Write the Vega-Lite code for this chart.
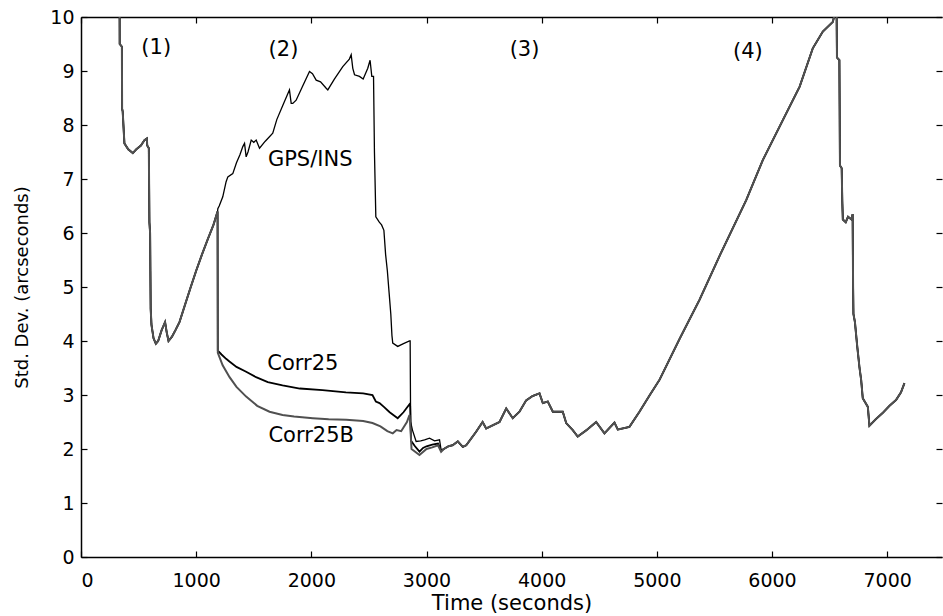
{
  "$schema": "https://vega.github.io/schema/vega-lite/v6.json",
  "width": 861,
  "height": 540,
  "autosize": {"type": "none"},
  "padding": {"left": 81, "top": 17, "right": 1, "bottom": 59},
  "background": "white",
  "config": {
    "view": {"stroke": null},
    "axis": {
      "grid": false,
      "domainColor": "black",
      "tickColor": "black",
      "labelColor": "black",
      "titleColor": "black",
      "labelFont": "DejaVu Sans",
      "titleFont": "DejaVu Sans",
      "labelFontSize": 19,
      "titleFontSize": 20,
      "titleFontWeight": "normal",
      "tickSize": -6,
      "tickWidth": 1.2,
      "domainWidth": 1.5
    }
  },
  "datasets": {
    "lines": [
      {"series": "GPS/INS", "t": 334, "v": 11}, {"series": "GPS/INS", "t": 336, "v": 9.5}, {"series": "GPS/INS", "t": 355, "v": 9.45}, {"series": "GPS/INS", "t": 357, "v": 8.3}, {"series": "GPS/INS", "t": 362, "v": 8.25}, {"series": "GPS/INS", "t": 377, "v": 7.66}, {"series": "GPS/INS", "t": 410, "v": 7.55}, {"series": "GPS/INS", "t": 450, "v": 7.48}, {"series": "GPS/INS", "t": 480, "v": 7.55}, {"series": "GPS/INS", "t": 520, "v": 7.62}, {"series": "GPS/INS", "t": 551, "v": 7.72}, {"series": "GPS/INS", "t": 572, "v": 7.75}, {"series": "GPS/INS", "t": 575, "v": 7.62}, {"series": "GPS/INS", "t": 589, "v": 7.57}, {"series": "GPS/INS", "t": 591, "v": 7.0}, {"series": "GPS/INS", "t": 594, "v": 6.2}, {"series": "GPS/INS", "t": 600, "v": 6.0}, {"series": "GPS/INS", "t": 605, "v": 4.6}, {"series": "GPS/INS", "t": 612, "v": 4.3}, {"series": "GPS/INS", "t": 630, "v": 4.05}, {"series": "GPS/INS", "t": 650, "v": 3.95}, {"series": "GPS/INS", "t": 670, "v": 4.0}, {"series": "GPS/INS", "t": 700, "v": 4.2}, {"series": "GPS/INS", "t": 730, "v": 4.35}, {"series": "GPS/INS", "t": 745, "v": 4.15}, {"series": "GPS/INS", "t": 760, "v": 4.0}, {"series": "GPS/INS", "t": 790, "v": 4.08}, {"series": "GPS/INS", "t": 820, "v": 4.2}, {"series": "GPS/INS", "t": 855, "v": 4.35}, {"series": "GPS/INS", "t": 900, "v": 4.65}, {"series": "GPS/INS", "t": 950, "v": 4.98}, {"series": "GPS/INS", "t": 1000, "v": 5.3}, {"series": "GPS/INS", "t": 1050, "v": 5.6}, {"series": "GPS/INS", "t": 1100, "v": 5.88}, {"series": "GPS/INS", "t": 1150, "v": 6.15}, {"series": "GPS/INS", "t": 1186, "v": 6.4},
      {"series": "GPS/INS", "t": 1188, "v": 6.45}, {"series": "GPS/INS", "t": 1200, "v": 6.5}, {"series": "GPS/INS", "t": 1231, "v": 6.67}, {"series": "GPS/INS", "t": 1260, "v": 6.95}, {"series": "GPS/INS", "t": 1275, "v": 7.04}, {"series": "GPS/INS", "t": 1318, "v": 7.1}, {"series": "GPS/INS", "t": 1350, "v": 7.3}, {"series": "GPS/INS", "t": 1380, "v": 7.45}, {"series": "GPS/INS", "t": 1405, "v": 7.6}, {"series": "GPS/INS", "t": 1420, "v": 7.66}, {"series": "GPS/INS", "t": 1434, "v": 7.41}, {"series": "GPS/INS", "t": 1450, "v": 7.5}, {"series": "GPS/INS", "t": 1478, "v": 7.72}, {"series": "GPS/INS", "t": 1500, "v": 7.68}, {"series": "GPS/INS", "t": 1521, "v": 7.72}, {"series": "GPS/INS", "t": 1550, "v": 7.57}, {"series": "GPS/INS", "t": 1600, "v": 7.7}, {"series": "GPS/INS", "t": 1665, "v": 7.85}, {"series": "GPS/INS", "t": 1700, "v": 8.1}, {"series": "GPS/INS", "t": 1750, "v": 8.35}, {"series": "GPS/INS", "t": 1790, "v": 8.55}, {"series": "GPS/INS", "t": 1810, "v": 8.65}, {"series": "GPS/INS", "t": 1825, "v": 8.4}, {"series": "GPS/INS", "t": 1839, "v": 8.4}, {"series": "GPS/INS", "t": 1868, "v": 8.46}, {"series": "GPS/INS", "t": 1920, "v": 8.7}, {"series": "GPS/INS", "t": 1984, "v": 8.99}, {"series": "GPS/INS", "t": 2010, "v": 8.95}, {"series": "GPS/INS", "t": 2042, "v": 8.83}, {"series": "GPS/INS", "t": 2080, "v": 8.8}, {"series": "GPS/INS", "t": 2129, "v": 8.68}, {"series": "GPS/INS", "t": 2143, "v": 8.65}, {"series": "GPS/INS", "t": 2200, "v": 8.85}, {"series": "GPS/INS", "t": 2273, "v": 9.08}, {"series": "GPS/INS", "t": 2330, "v": 9.22}, {"series": "GPS/INS", "t": 2346, "v": 9.3}, {"series": "GPS/INS", "t": 2360, "v": 9.05}, {"series": "GPS/INS", "t": 2375, "v": 8.93}, {"series": "GPS/INS", "t": 2418, "v": 8.9}, {"series": "GPS/INS", "t": 2450, "v": 8.85}, {"series": "GPS/INS", "t": 2490, "v": 9.05}, {"series": "GPS/INS", "t": 2510, "v": 9.2}, {"series": "GPS/INS", "t": 2525, "v": 8.9}, {"series": "GPS/INS", "t": 2540, "v": 8.9}, {"series": "GPS/INS", "t": 2548, "v": 7.5}, {"series": "GPS/INS", "t": 2560, "v": 6.3}, {"series": "GPS/INS", "t": 2590, "v": 6.2}, {"series": "GPS/INS", "t": 2610, "v": 6.15}, {"series": "GPS/INS", "t": 2630, "v": 6.05}, {"series": "GPS/INS", "t": 2645, "v": 5.6}, {"series": "GPS/INS", "t": 2660, "v": 5.3}, {"series": "GPS/INS", "t": 2675, "v": 4.9}, {"series": "GPS/INS", "t": 2690, "v": 4.5}, {"series": "GPS/INS", "t": 2700, "v": 4.1}, {"series": "GPS/INS", "t": 2707, "v": 3.96}, {"series": "GPS/INS", "t": 2750, "v": 3.9}, {"series": "GPS/INS", "t": 2800, "v": 3.95}, {"series": "GPS/INS", "t": 2852, "v": 4.0}, {"series": "GPS/INS", "t": 2858, "v": 4.0}, {"series": "GPS/INS", "t": 2862, "v": 2.5}, {"series": "GPS/INS", "t": 2878, "v": 2.35}, {"series": "GPS/INS", "t": 2910, "v": 2.14}, {"series": "GPS/INS", "t": 2950, "v": 2.15}, {"series": "GPS/INS", "t": 2983, "v": 2.17}, {"series": "GPS/INS", "t": 3026, "v": 2.2}, {"series": "GPS/INS", "t": 3070, "v": 2.15}, {"series": "GPS/INS", "t": 3113, "v": 2.17}, {"series": "GPS/INS", "t": 3127, "v": 1.98},
      {"series": "GPS/INS", "t": 3150, "v": 2.0}, {"series": "GPS/INS", "t": 3190, "v": 2.05}, {"series": "GPS/INS", "t": 3227, "v": 2.07}, {"series": "GPS/INS", "t": 3272, "v": 2.14}, {"series": "GPS/INS", "t": 3315, "v": 2.04}, {"series": "GPS/INS", "t": 3345, "v": 2.07}, {"series": "GPS/INS", "t": 3390, "v": 2.2}, {"series": "GPS/INS", "t": 3431, "v": 2.32}, {"series": "GPS/INS", "t": 3487, "v": 2.5}, {"series": "GPS/INS", "t": 3518, "v": 2.38}, {"series": "GPS/INS", "t": 3576, "v": 2.44}, {"series": "GPS/INS", "t": 3634, "v": 2.5}, {"series": "GPS/INS", "t": 3692, "v": 2.75}, {"series": "GPS/INS", "t": 3749, "v": 2.57}, {"series": "GPS/INS", "t": 3807, "v": 2.69}, {"series": "GPS/INS", "t": 3865, "v": 2.9}, {"series": "GPS/INS", "t": 3920, "v": 2.98}, {"series": "GPS/INS", "t": 3981, "v": 3.03}, {"series": "GPS/INS", "t": 4010, "v": 2.85}, {"series": "GPS/INS", "t": 4053, "v": 2.88}, {"series": "GPS/INS", "t": 4097, "v": 2.69}, {"series": "GPS/INS", "t": 4183, "v": 2.69}, {"series": "GPS/INS", "t": 4213, "v": 2.48}, {"series": "GPS/INS", "t": 4270, "v": 2.35}, {"series": "GPS/INS", "t": 4313, "v": 2.23}, {"series": "GPS/INS", "t": 4390, "v": 2.35}, {"series": "GPS/INS", "t": 4473, "v": 2.5}, {"series": "GPS/INS", "t": 4545, "v": 2.29}, {"series": "GPS/INS", "t": 4632, "v": 2.49}, {"series": "GPS/INS", "t": 4661, "v": 2.36}, {"series": "GPS/INS", "t": 4762, "v": 2.41}, {"series": "GPS/INS", "t": 4849, "v": 2.69}, {"series": "GPS/INS", "t": 4939, "v": 3.0}, {"series": "GPS/INS", "t": 5023, "v": 3.28}, {"series": "GPS/INS", "t": 5200, "v": 4.05}, {"series": "GPS/INS", "t": 5370, "v": 4.76}, {"series": "GPS/INS", "t": 5550, "v": 5.6}, {"series": "GPS/INS", "t": 5776, "v": 6.61}, {"series": "GPS/INS", "t": 5920, "v": 7.35}, {"series": "GPS/INS", "t": 6094, "v": 8.09}, {"series": "GPS/INS", "t": 6240, "v": 8.71}, {"series": "GPS/INS", "t": 6354, "v": 9.42}, {"series": "GPS/INS", "t": 6441, "v": 9.73}, {"series": "GPS/INS", "t": 6528, "v": 9.91}, {"series": "GPS/INS", "t": 6550, "v": 10.1}, {"series": "GPS/INS", "t": 6560, "v": 10.3}, {"series": "GPS/INS", "t": 6564, "v": 9.25}, {"series": "GPS/INS", "t": 6585, "v": 9.2}, {"series": "GPS/INS", "t": 6590, "v": 7.25}, {"series": "GPS/INS", "t": 6605, "v": 7.2}, {"series": "GPS/INS", "t": 6610, "v": 6.6}, {"series": "GPS/INS", "t": 6615, "v": 6.25}, {"series": "GPS/INS", "t": 6640, "v": 6.2}, {"series": "GPS/INS", "t": 6660, "v": 6.3}, {"series": "GPS/INS", "t": 6690, "v": 6.25}, {"series": "GPS/INS", "t": 6700, "v": 6.35}, {"series": "GPS/INS", "t": 6704, "v": 5.0}, {"series": "GPS/INS", "t": 6707, "v": 4.5}, {"series": "GPS/INS", "t": 6720, "v": 4.35}, {"series": "GPS/INS", "t": 6740, "v": 3.9}, {"series": "GPS/INS", "t": 6760, "v": 3.5}, {"series": "GPS/INS", "t": 6774, "v": 3.28}, {"series": "GPS/INS", "t": 6788, "v": 2.94}, {"series": "GPS/INS", "t": 6832, "v": 2.78}, {"series": "GPS/INS", "t": 6846, "v": 2.43}, {"series": "GPS/INS", "t": 6900, "v": 2.55}, {"series": "GPS/INS", "t": 6962, "v": 2.67}, {"series": "GPS/INS", "t": 7020, "v": 2.8}, {"series": "GPS/INS", "t": 7078, "v": 2.91}, {"series": "GPS/INS", "t": 7120, "v": 3.05}, {"series": "GPS/INS", "t": 7150, "v": 3.22},

      {"series": "Corr25", "t": 334, "v": 11}, {"series": "Corr25", "t": 336, "v": 9.5}, {"series": "Corr25", "t": 355, "v": 9.45}, {"series": "Corr25", "t": 357, "v": 8.3}, {"series": "Corr25", "t": 362, "v": 8.25}, {"series": "Corr25", "t": 377, "v": 7.66}, {"series": "Corr25", "t": 410, "v": 7.55}, {"series": "Corr25", "t": 450, "v": 7.48}, {"series": "Corr25", "t": 480, "v": 7.55}, {"series": "Corr25", "t": 520, "v": 7.62}, {"series": "Corr25", "t": 551, "v": 7.72}, {"series": "Corr25", "t": 572, "v": 7.75}, {"series": "Corr25", "t": 575, "v": 7.62}, {"series": "Corr25", "t": 589, "v": 7.57}, {"series": "Corr25", "t": 591, "v": 7.0}, {"series": "Corr25", "t": 594, "v": 6.2}, {"series": "Corr25", "t": 600, "v": 6.0}, {"series": "Corr25", "t": 605, "v": 4.6}, {"series": "Corr25", "t": 612, "v": 4.3}, {"series": "Corr25", "t": 630, "v": 4.05}, {"series": "Corr25", "t": 650, "v": 3.95}, {"series": "Corr25", "t": 670, "v": 4.0}, {"series": "Corr25", "t": 700, "v": 4.2}, {"series": "Corr25", "t": 730, "v": 4.35}, {"series": "Corr25", "t": 745, "v": 4.15}, {"series": "Corr25", "t": 760, "v": 4.0}, {"series": "Corr25", "t": 790, "v": 4.08}, {"series": "Corr25", "t": 820, "v": 4.2}, {"series": "Corr25", "t": 855, "v": 4.35}, {"series": "Corr25", "t": 900, "v": 4.65}, {"series": "Corr25", "t": 950, "v": 4.98}, {"series": "Corr25", "t": 1000, "v": 5.3}, {"series": "Corr25", "t": 1050, "v": 5.6}, {"series": "Corr25", "t": 1100, "v": 5.88}, {"series": "Corr25", "t": 1150, "v": 6.15}, {"series": "Corr25", "t": 1186, "v": 6.4},
      {"series": "Corr25", "t": 1188, "v": 3.82}, {"series": "Corr25", "t": 1220, "v": 3.75}, {"series": "Corr25", "t": 1260, "v": 3.67}, {"series": "Corr25", "t": 1289, "v": 3.62}, {"series": "Corr25", "t": 1350, "v": 3.52}, {"series": "Corr25", "t": 1434, "v": 3.43}, {"series": "Corr25", "t": 1520, "v": 3.33}, {"series": "Corr25", "t": 1622, "v": 3.24}, {"series": "Corr25", "t": 1750, "v": 3.18}, {"series": "Corr25", "t": 1900, "v": 3.12}, {"series": "Corr25", "t": 2097, "v": 3.09}, {"series": "Corr25", "t": 2300, "v": 3.05}, {"series": "Corr25", "t": 2450, "v": 3.03}, {"series": "Corr25", "t": 2531, "v": 3.0}, {"series": "Corr25", "t": 2560, "v": 2.88}, {"series": "Corr25", "t": 2592, "v": 2.85}, {"series": "Corr25", "t": 2630, "v": 2.78}, {"series": "Corr25", "t": 2680, "v": 2.68}, {"series": "Corr25", "t": 2750, "v": 2.57}, {"series": "Corr25", "t": 2800, "v": 2.68}, {"series": "Corr25", "t": 2852, "v": 2.83}, {"series": "Corr25", "t": 2858, "v": 2.8}, {"series": "Corr25", "t": 2866, "v": 2.15}, {"series": "Corr25", "t": 2900, "v": 2.05}, {"series": "Corr25", "t": 2939, "v": 1.95}, {"series": "Corr25", "t": 2970, "v": 2.02}, {"series": "Corr25", "t": 3000, "v": 2.05}, {"series": "Corr25", "t": 3050, "v": 2.08}, {"series": "Corr25", "t": 3100, "v": 2.1}, {"series": "Corr25", "t": 3127, "v": 1.97},
      {"series": "Corr25", "t": 3150, "v": 2.0}, {"series": "Corr25", "t": 3190, "v": 2.05}, {"series": "Corr25", "t": 3227, "v": 2.07}, {"series": "Corr25", "t": 3272, "v": 2.14}, {"series": "Corr25", "t": 3315, "v": 2.04}, {"series": "Corr25", "t": 3345, "v": 2.07}, {"series": "Corr25", "t": 3390, "v": 2.2}, {"series": "Corr25", "t": 3431, "v": 2.32}, {"series": "Corr25", "t": 3487, "v": 2.5}, {"series": "Corr25", "t": 3518, "v": 2.38}, {"series": "Corr25", "t": 3576, "v": 2.44}, {"series": "Corr25", "t": 3634, "v": 2.5}, {"series": "Corr25", "t": 3692, "v": 2.75}, {"series": "Corr25", "t": 3749, "v": 2.57}, {"series": "Corr25", "t": 3807, "v": 2.69}, {"series": "Corr25", "t": 3865, "v": 2.9}, {"series": "Corr25", "t": 3920, "v": 2.98}, {"series": "Corr25", "t": 3981, "v": 3.03}, {"series": "Corr25", "t": 4010, "v": 2.85}, {"series": "Corr25", "t": 4053, "v": 2.88}, {"series": "Corr25", "t": 4097, "v": 2.69}, {"series": "Corr25", "t": 4183, "v": 2.69}, {"series": "Corr25", "t": 4213, "v": 2.48}, {"series": "Corr25", "t": 4270, "v": 2.35}, {"series": "Corr25", "t": 4313, "v": 2.23}, {"series": "Corr25", "t": 4390, "v": 2.35}, {"series": "Corr25", "t": 4473, "v": 2.5}, {"series": "Corr25", "t": 4545, "v": 2.29}, {"series": "Corr25", "t": 4632, "v": 2.49}, {"series": "Corr25", "t": 4661, "v": 2.36}, {"series": "Corr25", "t": 4762, "v": 2.41}, {"series": "Corr25", "t": 4849, "v": 2.69}, {"series": "Corr25", "t": 4939, "v": 3.0}, {"series": "Corr25", "t": 5023, "v": 3.28}, {"series": "Corr25", "t": 5200, "v": 4.05}, {"series": "Corr25", "t": 5370, "v": 4.76}, {"series": "Corr25", "t": 5550, "v": 5.6}, {"series": "Corr25", "t": 5776, "v": 6.61}, {"series": "Corr25", "t": 5920, "v": 7.35}, {"series": "Corr25", "t": 6094, "v": 8.09}, {"series": "Corr25", "t": 6240, "v": 8.71}, {"series": "Corr25", "t": 6354, "v": 9.42}, {"series": "Corr25", "t": 6441, "v": 9.73}, {"series": "Corr25", "t": 6528, "v": 9.91}, {"series": "Corr25", "t": 6550, "v": 10.1}, {"series": "Corr25", "t": 6560, "v": 10.3}, {"series": "Corr25", "t": 6564, "v": 9.25}, {"series": "Corr25", "t": 6585, "v": 9.2}, {"series": "Corr25", "t": 6590, "v": 7.25}, {"series": "Corr25", "t": 6605, "v": 7.2}, {"series": "Corr25", "t": 6610, "v": 6.6}, {"series": "Corr25", "t": 6615, "v": 6.25}, {"series": "Corr25", "t": 6640, "v": 6.2}, {"series": "Corr25", "t": 6660, "v": 6.3}, {"series": "Corr25", "t": 6690, "v": 6.25}, {"series": "Corr25", "t": 6700, "v": 6.35}, {"series": "Corr25", "t": 6704, "v": 5.0}, {"series": "Corr25", "t": 6707, "v": 4.5}, {"series": "Corr25", "t": 6720, "v": 4.35}, {"series": "Corr25", "t": 6740, "v": 3.9}, {"series": "Corr25", "t": 6760, "v": 3.5}, {"series": "Corr25", "t": 6774, "v": 3.28}, {"series": "Corr25", "t": 6788, "v": 2.94}, {"series": "Corr25", "t": 6832, "v": 2.78}, {"series": "Corr25", "t": 6846, "v": 2.43}, {"series": "Corr25", "t": 6900, "v": 2.55}, {"series": "Corr25", "t": 6962, "v": 2.67}, {"series": "Corr25", "t": 7020, "v": 2.8}, {"series": "Corr25", "t": 7078, "v": 2.91}, {"series": "Corr25", "t": 7120, "v": 3.05}, {"series": "Corr25", "t": 7150, "v": 3.22},

      {"series": "Corr25B", "t": 334, "v": 11}, {"series": "Corr25B", "t": 336, "v": 9.5}, {"series": "Corr25B", "t": 355, "v": 9.45}, {"series": "Corr25B", "t": 357, "v": 8.3}, {"series": "Corr25B", "t": 362, "v": 8.25}, {"series": "Corr25B", "t": 377, "v": 7.66}, {"series": "Corr25B", "t": 410, "v": 7.55}, {"series": "Corr25B", "t": 450, "v": 7.48}, {"series": "Corr25B", "t": 480, "v": 7.55}, {"series": "Corr25B", "t": 520, "v": 7.62}, {"series": "Corr25B", "t": 551, "v": 7.72}, {"series": "Corr25B", "t": 572, "v": 7.75}, {"series": "Corr25B", "t": 575, "v": 7.62}, {"series": "Corr25B", "t": 589, "v": 7.57}, {"series": "Corr25B", "t": 591, "v": 7.0}, {"series": "Corr25B", "t": 594, "v": 6.2}, {"series": "Corr25B", "t": 600, "v": 6.0}, {"series": "Corr25B", "t": 605, "v": 4.6}, {"series": "Corr25B", "t": 612, "v": 4.3}, {"series": "Corr25B", "t": 630, "v": 4.05}, {"series": "Corr25B", "t": 650, "v": 3.95}, {"series": "Corr25B", "t": 670, "v": 4.0}, {"series": "Corr25B", "t": 700, "v": 4.2}, {"series": "Corr25B", "t": 730, "v": 4.35}, {"series": "Corr25B", "t": 745, "v": 4.15}, {"series": "Corr25B", "t": 760, "v": 4.0}, {"series": "Corr25B", "t": 790, "v": 4.08}, {"series": "Corr25B", "t": 820, "v": 4.2}, {"series": "Corr25B", "t": 855, "v": 4.35}, {"series": "Corr25B", "t": 900, "v": 4.65}, {"series": "Corr25B", "t": 950, "v": 4.98}, {"series": "Corr25B", "t": 1000, "v": 5.3}, {"series": "Corr25B", "t": 1050, "v": 5.6}, {"series": "Corr25B", "t": 1100, "v": 5.88}, {"series": "Corr25B", "t": 1150, "v": 6.15}, {"series": "Corr25B", "t": 1186, "v": 6.4},
      {"series": "Corr25B", "t": 1188, "v": 3.78}, {"series": "Corr25B", "t": 1230, "v": 3.55}, {"series": "Corr25B", "t": 1290, "v": 3.33}, {"series": "Corr25B", "t": 1350, "v": 3.15}, {"series": "Corr25B", "t": 1434, "v": 2.97}, {"series": "Corr25B", "t": 1530, "v": 2.8}, {"series": "Corr25B", "t": 1637, "v": 2.69}, {"series": "Corr25B", "t": 1750, "v": 2.63}, {"series": "Corr25B", "t": 1850, "v": 2.6}, {"series": "Corr25B", "t": 2013, "v": 2.57}, {"series": "Corr25B", "t": 2150, "v": 2.55}, {"series": "Corr25B", "t": 2303, "v": 2.54}, {"series": "Corr25B", "t": 2450, "v": 2.52}, {"series": "Corr25B", "t": 2531, "v": 2.48}, {"series": "Corr25B", "t": 2600, "v": 2.42}, {"series": "Corr25B", "t": 2660, "v": 2.33}, {"series": "Corr25B", "t": 2707, "v": 2.29}, {"series": "Corr25B", "t": 2740, "v": 2.35}, {"series": "Corr25B", "t": 2780, "v": 2.33}, {"series": "Corr25B", "t": 2830, "v": 2.5}, {"series": "Corr25B", "t": 2852, "v": 2.63}, {"series": "Corr25B", "t": 2856, "v": 2.55}, {"series": "Corr25B", "t": 2870, "v": 2.0}, {"series": "Corr25B", "t": 2939, "v": 1.89}, {"series": "Corr25B", "t": 3000, "v": 2.0}, {"series": "Corr25B", "t": 3050, "v": 2.03}, {"series": "Corr25B", "t": 3100, "v": 2.07}, {"series": "Corr25B", "t": 3127, "v": 1.95},
      {"series": "Corr25B", "t": 3150, "v": 2.0}, {"series": "Corr25B", "t": 3190, "v": 2.05}, {"series": "Corr25B", "t": 3227, "v": 2.07}, {"series": "Corr25B", "t": 3272, "v": 2.14}, {"series": "Corr25B", "t": 3315, "v": 2.04}, {"series": "Corr25B", "t": 3345, "v": 2.07}, {"series": "Corr25B", "t": 3390, "v": 2.2}, {"series": "Corr25B", "t": 3431, "v": 2.32}, {"series": "Corr25B", "t": 3487, "v": 2.5}, {"series": "Corr25B", "t": 3518, "v": 2.38}, {"series": "Corr25B", "t": 3576, "v": 2.44}, {"series": "Corr25B", "t": 3634, "v": 2.5}, {"series": "Corr25B", "t": 3692, "v": 2.75}, {"series": "Corr25B", "t": 3749, "v": 2.57}, {"series": "Corr25B", "t": 3807, "v": 2.69}, {"series": "Corr25B", "t": 3865, "v": 2.9}, {"series": "Corr25B", "t": 3920, "v": 2.98}, {"series": "Corr25B", "t": 3981, "v": 3.03}, {"series": "Corr25B", "t": 4010, "v": 2.85}, {"series": "Corr25B", "t": 4053, "v": 2.88}, {"series": "Corr25B", "t": 4097, "v": 2.69}, {"series": "Corr25B", "t": 4183, "v": 2.69}, {"series": "Corr25B", "t": 4213, "v": 2.48}, {"series": "Corr25B", "t": 4270, "v": 2.35}, {"series": "Corr25B", "t": 4313, "v": 2.23}, {"series": "Corr25B", "t": 4390, "v": 2.35}, {"series": "Corr25B", "t": 4473, "v": 2.5}, {"series": "Corr25B", "t": 4545, "v": 2.29}, {"series": "Corr25B", "t": 4632, "v": 2.49}, {"series": "Corr25B", "t": 4661, "v": 2.36}, {"series": "Corr25B", "t": 4762, "v": 2.41}, {"series": "Corr25B", "t": 4849, "v": 2.69}, {"series": "Corr25B", "t": 4939, "v": 3.0}, {"series": "Corr25B", "t": 5023, "v": 3.28}, {"series": "Corr25B", "t": 5200, "v": 4.05}, {"series": "Corr25B", "t": 5370, "v": 4.76}, {"series": "Corr25B", "t": 5550, "v": 5.6}, {"series": "Corr25B", "t": 5776, "v": 6.61}, {"series": "Corr25B", "t": 5920, "v": 7.35}, {"series": "Corr25B", "t": 6094, "v": 8.09}, {"series": "Corr25B", "t": 6240, "v": 8.71}, {"series": "Corr25B", "t": 6354, "v": 9.42}, {"series": "Corr25B", "t": 6441, "v": 9.73}, {"series": "Corr25B", "t": 6528, "v": 9.91}, {"series": "Corr25B", "t": 6550, "v": 10.1}, {"series": "Corr25B", "t": 6560, "v": 10.3}, {"series": "Corr25B", "t": 6564, "v": 9.25}, {"series": "Corr25B", "t": 6585, "v": 9.2}, {"series": "Corr25B", "t": 6590, "v": 7.25}, {"series": "Corr25B", "t": 6605, "v": 7.2}, {"series": "Corr25B", "t": 6610, "v": 6.6}, {"series": "Corr25B", "t": 6615, "v": 6.25}, {"series": "Corr25B", "t": 6640, "v": 6.2}, {"series": "Corr25B", "t": 6660, "v": 6.3}, {"series": "Corr25B", "t": 6690, "v": 6.25}, {"series": "Corr25B", "t": 6700, "v": 6.35}, {"series": "Corr25B", "t": 6704, "v": 5.0}, {"series": "Corr25B", "t": 6707, "v": 4.5}, {"series": "Corr25B", "t": 6720, "v": 4.35}, {"series": "Corr25B", "t": 6740, "v": 3.9}, {"series": "Corr25B", "t": 6760, "v": 3.5}, {"series": "Corr25B", "t": 6774, "v": 3.28}, {"series": "Corr25B", "t": 6788, "v": 2.94}, {"series": "Corr25B", "t": 6832, "v": 2.78}, {"series": "Corr25B", "t": 6846, "v": 2.43}, {"series": "Corr25B", "t": 6900, "v": 2.55}, {"series": "Corr25B", "t": 6962, "v": 2.67}, {"series": "Corr25B", "t": 7020, "v": 2.8}, {"series": "Corr25B", "t": 7078, "v": 2.91}, {"series": "Corr25B", "t": 7120, "v": 3.05}, {"series": "Corr25B", "t": 7150, "v": 3.22}
    ],
    "notes": [
      {"label": "(1)", "t": 653, "v": 9.42},
      {"label": "(2)", "t": 1758, "v": 9.39},
      {"label": "(3)", "t": 3851, "v": 9.38},
      {"label": "(4)", "t": 5790, "v": 9.36},
      {"label": "GPS/INS", "t": 1990, "v": 7.35},
      {"label": "Corr25", "t": 1926, "v": 3.57},
      {"label": "Corr25B", "t": 1999, "v": 2.24}
    ]
  },
  "layer": [
    {
      "data": {"name": "lines"},
      "transform": [{"filter": "datum.series === 'GPS/INS'"}],
      "mark": {"type": "line", "color": "#000000", "strokeWidth": 1.3, "clip": true},
      "encoding": {
        "x": {"field": "t", "type": "quantitative", "scale": {"domain": [0, 7476], "nice": false, "zero": false},
          "axis": {"orient": "bottom", "values": [0, 1000, 2000, 3000, 4000, 5000, 6000, 7000], "format": "d", "title": "Time (seconds)", "labelPadding": 20, "titlePadding": 2, "titleFontSize": 21}},
        "y": {"field": "v", "type": "quantitative", "scale": {"domain": [0, 10], "nice": false, "zero": false},
          "axis": {"orient": "left", "values": [0, 1, 2, 3, 4, 5, 6, 7, 8, 9, 10], "format": "d", "title": "Std. Dev. (arcseconds)", "labelPadding": 13, "titlePadding": 18, "titleFontSize": 18}}
      }
    },
    {
      "data": {"name": "lines"},
      "transform": [{"filter": "datum.series === 'Corr25'"}],
      "mark": {"type": "line", "color": "#000000", "strokeWidth": 1.8, "clip": true},
      "encoding": {
        "x": {"field": "t", "type": "quantitative", "axis": null},
        "y": {"field": "v", "type": "quantitative", "axis": null}
      }
    },
    {
      "data": {"name": "lines"},
      "transform": [{"filter": "datum.series === 'Corr25B'"}],
      "mark": {"type": "line", "color": "#505050", "strokeWidth": 2, "clip": true},
      "encoding": {
        "x": {"field": "t", "type": "quantitative", "axis": null},
        "y": {"field": "v", "type": "quantitative", "axis": null}
      }
    },
    {
      "data": {"name": "notes"},
      "mark": {"type": "text", "font": "DejaVu Sans", "fontSize": 21, "color": "black", "align": "center", "baseline": "middle"},
      "encoding": {
        "x": {"field": "t", "type": "quantitative",
          "axis": {"orient": "top", "values": [0, 1000, 2000, 3000, 4000, 5000, 6000, 7000], "labels": false, "title": null, "domain": true}},
        "y": {"field": "v", "type": "quantitative",
          "axis": {"orient": "right", "values": [0, 1, 2, 3, 4, 5, 6, 7, 8, 9, 10], "labels": false, "title": null, "domain": false}},
        "text": {"field": "label", "type": "nominal"}
      }
    }
  ],
  "resolve": {"axis": {"x": "independent", "y": "independent"}}
}
